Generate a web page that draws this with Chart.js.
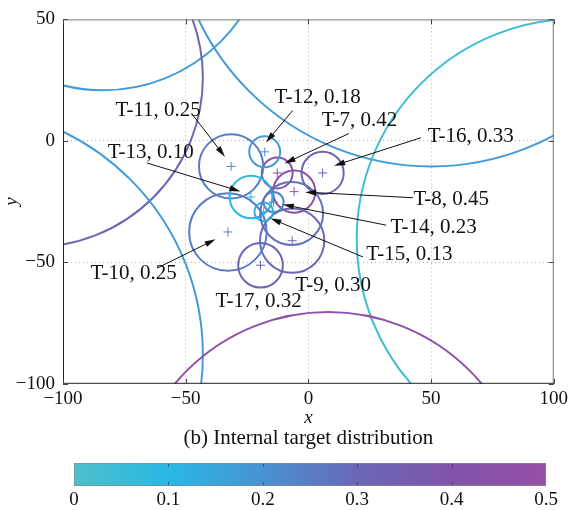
<!DOCTYPE html>
<html>
<head>
<meta charset="utf-8">
<title>Internal target distribution</title>
<style>
  html, body { margin: 0; padding: 0; background: #fff; }
  #wrap { position: relative; width: 572px; height: 510px; }
  #main { position: absolute; left: 0; top: 0; }
  #bar { position: absolute; left: 0; top: 452px; }
</style>
<script src="https://cdn.jsdelivr.net/npm/chart.js@4.4.0/dist/chart.umd.min.js"></script>
</head>
<body>
<div id="wrap">
  <canvas id="main" width="572" height="452"></canvas>
  <canvas id="bar" width="572" height="58"></canvas>
</div>
<script>
//  Internal targets: name, centre, radius, value
const targetNames = ['T-7', 'T-8', 'T-9', 'T-10', 'T-11', 'T-12', 'T-13', 'T-14', 'T-15', 'T-16', 'T-17', '']
const targetX = [-12.7, -5.8, -6.6, -32.8, -31.5, -17.8, -23.4, -14.2, -18.2, 5.8, -19.5, -6.8]
const targetY = [-13.2, -20.9, -41.1, -37.5, -10.5, -4.5, -23.1, -25.2, -29.2, -13.2, -51.2, -29.9]
const targetR = [6.3, 8.6, 13.1, 15.8, 13.1, 6.3, 8.7, 4.1, 3.8, 8.6, 9.1, 12.8]
const targetValue = [0.42, 0.45, 0.30, 0.25, 0.25, 0.18, 0.10, 0.23, 0.13, 0.33, 0.32, 0.28]

//  External targets, only partly inside the window
const outerX = [-83.6, -112, -144, 50, 109.4, 8.1]
const outerY = [89.2, 26, -88, 95.4, -40.4, -152.8]
const outerR = [67.7, 69, 101, 104.9, 89.7, 81.5]
const outerValue = [0.18, 0.30, 0.18, 0.18, 0.04, 0.47]

const xTicks = [-100, -50, 0, 50, 100]
const yTicks = [-100, -50, 0, 50]
const colorTicks = [0, 0.1, 0.2, 0.3, 0.4, 0.5]

//  Where each label sits and where its arrow starts / ends (data units)
const noteAt = {
  'T-11': { text: [-78.6, 10.2], from: [-47.3, 10.9], to: [-34.0, -6.5] },
  'T-13': { text: [-81.8, -7.2], from: [-65.8, -9.1], to: [-27.7, -20.8] },
  'T-12': { text: [-13.8, 15.6], from: [-6.4, 12.5], to: [-17.3, -0.7] },
  'T-7': { text: [5.4, 6.1], from: [16.5, 3.0], to: [-9.7, -9.3] },
  'T-16': { text: [48.6, -0.3], from: [45.9, 1.3], to: [10.5, -10.2] },
  'T-8': { text: [42.8, -26.5], from: [42.6, -23.4], to: [-1.3, -21.1] },
  'T-14': { text: [33.5, -37.8], from: [31.7, -34.7], to: [-10.4, -26.2] },
  'T-15': { text: [23.6, -48.9], from: [22.3, -47.8], to: [-15.5, -31.9] },
  'T-10': { text: [-88.8, -56.8], from: [-61.5, -52.3], to: [-37.8, -40.5] },
  'T-17': { text: [-37.8, -68.2] },
  'T-9': { text: [-5.3, -61.8] }
}

const serif = '"Liberation Serif", "Times New Roman", serif'
const cmap = [
  [0, [77, 192, 200]],
  [0.1, [40, 184, 230]],
  [0.2, [72, 146, 210]],
  [0.3, [106, 104, 182]],
  [0.4, [128, 84, 170]],
  [0.5, [152, 78, 166]]
]

function colorAt (v) {
  for (let i = 1; i < cmap.length; i++) {
    if (v <= cmap[i][0] || i === cmap.length - 1) {
      const [v0, c0] = cmap[i - 1]
      const [v1, c1] = cmap[i]
      const t = Math.max(0, Math.min(1, (v - v0) / (v1 - v0)))
      const c = c0.map((a, k) => Math.round(a + (c1[k] - a) * t))
      return `rgb(${c[0]}, ${c[1]}, ${c[2]})`
    }
  }
}

function minus (v) {
  return v < 0 ? '\u2212' + Math.abs(v) : String(v)
}

const allX = outerX.concat(targetX)
const allY = outerY.concat(targetY)
const allR = outerR.concat(targetR)
const allV = outerValue.concat(targetValue)

//  Only the named targets get a "+" at their centre
const marked = targetNames.map((n, i) => i).filter(i => targetNames[i])

//  Coverage circles, centre and radius put through the chart's scales
const rings = {
  id: 'rings',
  beforeDatasetsDraw (chart) {
    const { ctx, chartArea: a, scales: { x, y } } = chart
    ctx.save()
    ctx.beginPath()
    ctx.rect(a.left, a.top, a.right - a.left, a.bottom - a.top)
    ctx.clip()
    ctx.lineWidth = 2
    allX.forEach((cx, i) => {
      const px = x.getPixelForValue(cx)
      const py = y.getPixelForValue(allY[i])
      const r = Math.abs(x.getPixelForValue(cx + allR[i]) - px)
      ctx.strokeStyle = colorAt(allV[i])
      ctx.beginPath()
      ctx.arc(px, py, r, 0, Math.PI * 2)
      ctx.stroke()
    })
    ctx.restore()
  }
}

function arrow (ctx, x0, y0, x1, y1) {
  const a = Math.atan2(y1 - y0, x1 - x0)
  const L = 11
  const W = 3
  ctx.beginPath()
  ctx.moveTo(x0, y0)
  ctx.lineTo(x1 - 6 * Math.cos(a), y1 - 6 * Math.sin(a))
  ctx.stroke()
  ctx.beginPath()
  ctx.moveTo(x1, y1)
  ctx.lineTo(x1 - L * Math.cos(a) + W * Math.sin(a), y1 - L * Math.sin(a) - W * Math.cos(a))
  ctx.lineTo(x1 - L * Math.cos(a) - W * Math.sin(a), y1 - L * Math.sin(a) + W * Math.cos(a))
  ctx.closePath()
  ctx.fill()
}

const notes = {
  id: 'notes',
  afterDatasetsDraw (chart) {
    const { ctx, scales: { x, y } } = chart
    ctx.save()
    ctx.font = `21px ${serif}`
    ctx.fillStyle = '#111'
    ctx.strokeStyle = '#111'
    ctx.lineWidth = 1
    ctx.textBaseline = 'alphabetic'
    targetNames.forEach((name, i) => {
      const n = noteAt[name]
      if (!n) return
      ctx.fillText(`${name}, ${targetValue[i].toFixed(2)}`, x.getPixelForValue(n.text[0]), y.getPixelForValue(n.text[1]))
      if (n.from) {
        arrow(ctx, x.getPixelForValue(n.from[0]), y.getPixelForValue(n.from[1]),
          x.getPixelForValue(n.to[0]), y.getPixelForValue(n.to[1]))
      }
    })
    ctx.restore()
  }
}

//  Box round the plot with small inward ticks
const frame = {
  id: 'frame',
  afterDraw (chart) {
    const { ctx, chartArea: a, scales: { x, y } } = chart
    ctx.save()
    ctx.lineWidth = 1
    ctx.strokeStyle = '#777'
    ctx.beginPath()
    ctx.moveTo(a.left, a.top + 0.5)
    ctx.lineTo(a.right - 0.5, a.top + 0.5)
    ctx.lineTo(a.right - 0.5, a.bottom)
    ctx.stroke()
    ctx.strokeStyle = '#222'
    ctx.beginPath()
    ctx.moveTo(a.left + 0.5, a.top)
    ctx.lineTo(a.left + 0.5, a.bottom - 0.5)
    ctx.lineTo(a.right, a.bottom - 0.5)
    ctx.stroke()
    ctx.strokeStyle = '#444'
    ctx.beginPath()
    xTicks.forEach(v => {
      const px = Math.round(x.getPixelForValue(v)) + 0.5
      ctx.moveTo(px, a.bottom); ctx.lineTo(px, a.bottom - 5)
      ctx.moveTo(px, a.top); ctx.lineTo(px, a.top + 5)
    })
    yTicks.forEach(v => {
      const py = Math.round(y.getPixelForValue(v)) + 0.5
      ctx.moveTo(a.left, py); ctx.lineTo(a.left + 5, py)
      ctx.moveTo(a.right, py); ctx.lineTo(a.right - 5, py)
    })
    ctx.stroke()
    ctx.restore()
  }
}

function gridColor (ctx) {
  const v = ctx.tick && ctx.tick.value
  return (v === ctx.scale.min || v === ctx.scale.max) ? 'rgba(0,0,0,0)' : '#b0b0b0'
}

new Chart(document.getElementById('main'), {
  type: 'scatter',
  data: {
    datasets: [
      {
        data: marked.map(i => ({ x: targetX[i], y: targetY[i] })),
        pointStyle: 'cross',
        radius: 4.5,
        borderWidth: 1,
        borderColor: ctx => colorAt(targetValue[marked[ctx.dataIndex]]),
        showLine: false
      }
    ]
  },
  options: {
    responsive: false,
    animation: false,
    events: [],
    layout: { padding: { top: 16, right: 15, bottom: 1, left: 0 } },
    plugins: {
      legend: { display: false },
      tooltip: { enabled: false },
      title: {
        display: true,
        position: 'bottom',
        fullSize: false,
        text: '(b) Internal target distribution',
        color: '#111',
        font: { family: serif, size: 21, weight: 'normal' },
        padding: { top: 0, bottom: 0 }
      }
    },
    scales: {
      x: {
        type: 'linear',
        min: -100,
        max: 100,
        afterBuildTicks: s => { s.ticks = xTicks.map(v => ({ value: v })) },
        afterFit: s => { s.height = 42 },
        ticks: { color: '#111', padding: 4, font: { family: serif, size: 19 }, callback: minus },
        grid: { color: gridColor, drawTicks: false },
        border: { display: false, dash: [1, 3] },
        title: {
          display: true,
          text: 'x',
          color: '#111',
          font: { family: serif, size: 19, style: 'italic' },
          padding: { top: 0, bottom: -4 }
        }
      },
      y: {
        type: 'linear',
        min: -100,
        max: 50,
        afterBuildTicks: s => { s.ticks = yTicks.map(v => ({ value: v })) },
        afterFit: s => { s.width = 63 },
        ticks: { color: '#111', padding: 8, font: { family: serif, size: 19 }, callback: minus },
        grid: { color: gridColor, drawTicks: false },
        border: { display: false, dash: [1, 3] },
        title: {
          display: true,
          text: 'y',
          color: '#111',
          font: { family: serif, size: 19, style: 'italic' },
          padding: { top: 1, bottom: 0 }
        }
      }
    }
  },
  plugins: [rings, notes, frame]
})

//  Colour bar underneath
function barGradient (ctx) {
  const a = ctx.chart.chartArea
  if (!a) return '#888'
  const g = ctx.chart.ctx.createLinearGradient(a.left, 0, a.right, 0)
  cmap.forEach(([v, c]) => g.addColorStop(v / 0.5, `rgb(${c[0]}, ${c[1]}, ${c[2]})`))
  return g
}

const barTicks = {
  id: 'barTicks',
  afterDatasetsDraw (chart) {
    const { ctx, chartArea: a, scales: { x } } = chart
    ctx.save()
    ctx.strokeStyle = 'rgba(40,40,80,0.6)'
    ctx.lineWidth = 1
    ctx.beginPath()
    colorTicks.slice(1, -1).forEach(v => {
      const px = Math.round(x.getPixelForValue(v)) + 0.5
      ctx.moveTo(px, a.bottom - 1); ctx.lineTo(px, a.bottom - 4)
      ctx.moveTo(px, a.top + 1); ctx.lineTo(px, a.top + 4)
    })
    ctx.stroke()
    ctx.restore()
  }
}

new Chart(document.getElementById('bar'), {
  type: 'bar',
  data: {
    labels: [''],
    datasets: [{
      data: [[colorTicks[0], colorTicks[colorTicks.length - 1]]],
      backgroundColor: barGradient,
      borderColor: '#888',
      borderWidth: 1,
      borderSkipped: false,
      barPercentage: 1,
      categoryPercentage: 1
    }]
  },
  options: {
    indexAxis: 'y',
    responsive: false,
    animation: false,
    events: [],
    layout: { padding: { left: 74, right: 26, top: 11, bottom: 0 } },
    plugins: { legend: { display: false }, tooltip: { enabled: false } },
    scales: {
      x: {
        type: 'linear',
        min: 0,
        max: 0.5,
        afterBuildTicks: s => { s.ticks = colorTicks.map(v => ({ value: v })) },
        afterFit: s => { s.height = 24 },
        ticks: { color: '#111', padding: 3, font: { family: serif, size: 19 }, callback: v => v === 0 ? '0' : v.toFixed(1) },
        grid: { display: false, drawTicks: false },
        border: { display: false }
      },
      y: { display: false }
    }
  },
  plugins: [barTicks]
})
</script>
</body>
</html>
